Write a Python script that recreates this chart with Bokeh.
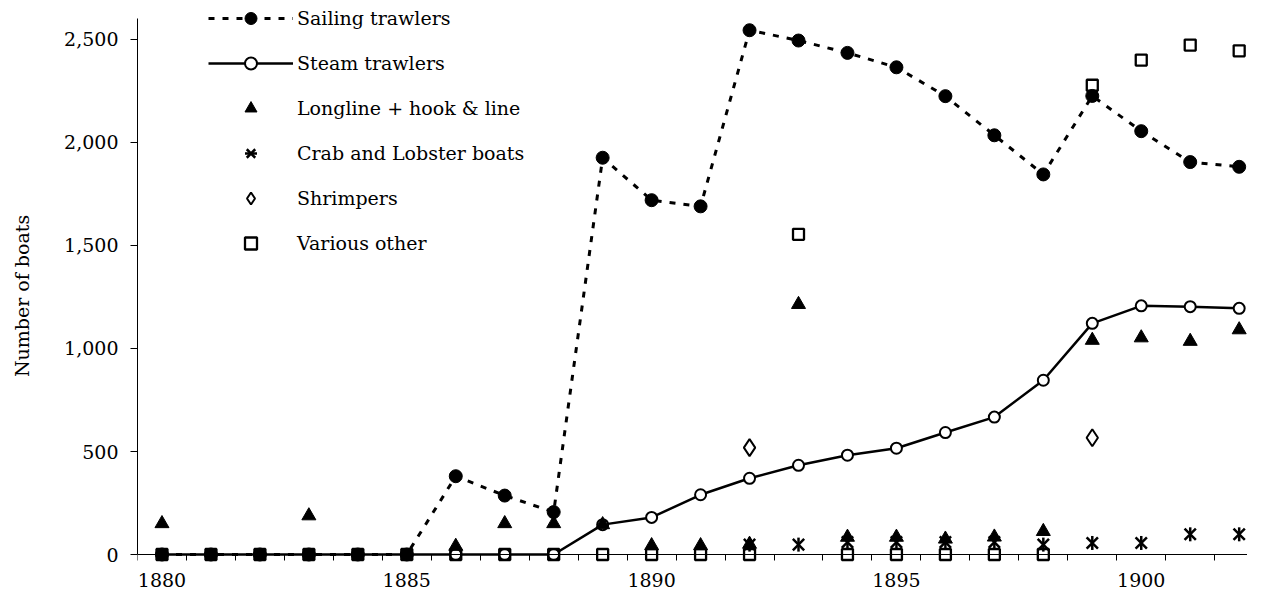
import math
import numpy as np
from bokeh.plotting import figure
from bokeh.models import (Range1d, FixedTicker, NumeralTickFormatter, Legend,
                          LegendItem, ColumnDataSource)
from bokeh.embed import file_html
from bokeh.resources import INLINE

nan = np.nan
years = list(range(1880, 1903))
sailing = [0, 0, 0, 0, 0, 0, 380, 286, 206, 1926, 1720, 1690, 2545, 2495, 2435,
           2365, 2225, 2035, 1845, 2226, 2055, 1905, 1882]
steam = [0, 0, 0, 0, 0, 0, 0, 0, 0, 145, 180, 290, 370, 433, 482, 516, 592, 667,
         846, 1122, 1207, 1203, 1195]
longline = [150, nan, nan, 188, nan, nan, 40, 150, 150, 145, 43, 43, 50, 1214, 84,
            84, 75, 85, 112, 1040, 1052, 1035, 1091]
crab = [nan, nan, nan, nan, nan, nan, nan, nan, nan, nan, nan, nan, 48, 48, 60, 60,
        60, 60, 48, 56, 56, 98, 98]
shrimpers = [nan, nan, nan, nan, nan, nan, nan, nan, nan, nan, nan, nan, 519, nan,
             nan, nan, nan, nan, nan, 567, nan, nan, nan]
various = [0, 0, 0, 0, 0, 0, 0, 0, 0, 0, 0, 0, 0, 1554, 0, 0, 0, 0, 0, 2278, 2400,
           2473, 2445]
x_labels = [1880, 1885, 1890, 1895, 1900]
y_ticks = [0, 500, 1000, 1500, 2000, 2500]

src = ColumnDataSource(dict(year=years, sailing=sailing, steam=steam,
                            longline=longline, crab=crab, shrimpers=shrimpers,
                            various=various))

FONT = "DejaVu Serif"
FS = "19px"

p = figure(width=1247, height=591, output_backend="svg", toolbar_location=None,
           x_range=Range1d(1879.5, 1902.17), y_range=Range1d(-179.6, 2689.3),
           min_border_left=137, min_border_right=0, min_border_top=0,
           min_border_bottom=0)
p.outline_line_color = None
p.grid.visible = False
p.background_fill_color = "white"

# series
r_steam_line = p.line("year", "steam", source=src, line_color="black", line_width=2.5)
r_steam_pts = p.scatter("year", "steam", source=src, marker="circle", size=11,
                        fill_color="white", line_color="black", line_width=2)
r_sail_line = p.line("year", "sailing", source=src, line_color="black",
                     line_width=3, line_dash="6 8")
r_sail_pts = p.scatter("year", "sailing", source=src, marker="circle", size=13,
                       fill_color="black", line_color="black", line_width=1)
r_long = p.scatter("year", "longline", source=src, marker="triangle", size=14,
                   fill_color="black", line_color="black", line_width=1)
r_crab1 = p.scatter("year", "crab", source=src, marker="x", size=16,
                    line_color="black", line_width=2.5)
r_crab2 = p.scatter("year", "crab", source=src, marker="dash", size=14,
                    angle=math.pi / 2, line_color="black", line_width=2.5)
r_shrimp = p.scatter("year", "shrimpers", source=src, marker="diamond", size=17,
                     fill_color="white", line_color="black", line_width=2)
r_var = p.scatter("year", "various", source=src, marker="square", size=11,
                  fill_color=None, line_color="black", line_width=2.3)

# x axis drawn at y = 0
xa = p.xaxis[0]
xa.fixed_location = 0
xa.bounds = (1879.5, 1902.5)
minor = [y - 0.5 for y in years] + [years[-1] + 0.5]
xa.ticker = FixedTicker(ticks=x_labels, minor_ticks=minor)
xa.major_tick_line_color = None
xa.major_tick_out = 0
xa.major_tick_in = 0
xa.minor_tick_out = 6
xa.minor_tick_in = 0
xa.minor_tick_line_color = "black"
xa.axis_line_color = "black"
xa.major_label_standoff = 12
xa.major_label_text_font = FONT
xa.major_label_text_font_size = FS
xa.major_label_text_color = "black"

ya = p.yaxis[0]
ya.bounds = (0, 2602)
ya.ticker = FixedTicker(ticks=y_ticks)
ya.formatter = NumeralTickFormatter(format="0,0")
ya.minor_tick_line_color = None
ya.major_tick_out = 7
ya.major_tick_in = 0
ya.major_tick_line_color = "black"
ya.axis_line_color = "black"
ya.major_label_standoff = 12
ya.major_label_text_font = FONT
ya.major_label_text_font_size = FS
ya.major_label_text_color = "black"
ya.axis_label = "Number of boats"
ya.axis_label_text_font = FONT
ya.axis_label_text_font_size = FS
ya.axis_label_text_font_style = "normal"
ya.axis_label_text_color = "black"
ya.axis_label_standoff = 28

legend = Legend(items=[
    LegendItem(label="Sailing trawlers", renderers=[r_sail_line, r_sail_pts]),
    LegendItem(label="Steam trawlers", renderers=[r_steam_line, r_steam_pts]),
    LegendItem(label="Longline + hook & line", renderers=[r_long]),
    LegendItem(label="Crab and Lobster boats", renderers=[r_crab1, r_crab2]),
    LegendItem(label="Shrimpers", renderers=[r_shrimp]),
    LegendItem(label="Various other", renderers=[r_var]),
], location=(71, 333))
legend.padding = 0
legend.margin = 0
legend.spacing = 15
legend.glyph_width = 85
legend.glyph_height = 30
legend.label_height = 30
legend.label_standoff = 4
legend.label_text_font = FONT
legend.label_text_font_size = FS
legend.label_text_color = "black"
legend.background_fill_alpha = 0
legend.border_line_color = None
p.add_layout(legend, "center")

open("out.html", "w").write(file_html(p, INLINE))
